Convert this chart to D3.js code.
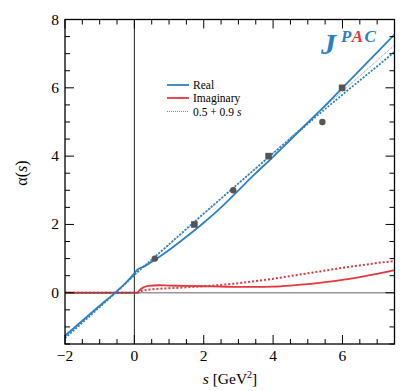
<!DOCTYPE html>
<html><head><meta charset="utf-8">
<script src="https://cdn.jsdelivr.net/npm/d3@7"></script>
<style>body{margin:0;background:#fff}svg{display:block}</style>
</head><body><div id="chart"></div>
<script>
// ---- data ----
const realS   = [-2,-1.5,-1,-0.5,-0.25,0,0.08,0.3,0.6,1,1.5,2,2.5,3,3.5,4,4.5,5,5.5,6,6.5,7,7.5];
const realV   = [-1.26,-0.82,-0.38,0.05,0.29,0.57,0.67,0.78,0.97,1.25,1.64,2.05,2.5,3.0,3.5,3.98,4.48,4.98,5.48,6.0,6.52,7.04,7.56];
const realDotS = [-2,-1,-0.5,0,0.08,0.5,1,2,3,4,5,6,7,7.5];
const realDotV = [-1.33,-0.42,0.04,0.52,0.6,0.97,1.42,2.32,3.2,4.08,4.95,5.8,6.63,7.05];
const imagS   = [-2,0,0.08,0.15,0.25,0.4,0.7,1,1.5,2,2.5,3,3.5,4,4.5,5,5.5,6,6.5,7,7.5];
const imagV   = [0,0,0,0.08,0.15,0.2,0.22,0.21,0.2,0.19,0.18,0.17,0.17,0.18,0.21,0.25,0.31,0.38,0.46,0.55,0.66];
const imagDotS = [-2,0,0.1,0.2,0.5,1,1.5,2,2.5,3,3.5,4,4.5,5,5.5,6,6.5,7,7.5];
const imagDotV = [0,0,0,0.05,0.1,0.13,0.16,0.19,0.23,0.28,0.34,0.41,0.49,0.57,0.65,0.73,0.8,0.87,0.93];
const lineS = [-2, 7.5];
const lineV = [-1.3, 7.25];
const circleS = [0.59, 2.85, 5.42];
const circleV = [1, 3, 5];
const squareS = [1.73, 3.87, 5.99];
const squareV = [2, 4, 6];
const xTicks = [-2, 0, 2, 4, 6];
const yTicks = [0, 2, 4, 6, 8];
const legendLabels = ["Real", "Imaginary", "0.5 + 0.9 "];

// ---- layout ----
const W = 407, H = 391;
const L = 65, R = 394.5, T = 19.5, B = 344;
const blue = "#2f7fc1", red = "#e0383e";
const FONT = "'Liberation Serif', 'Times New Roman', Times, 'DejaVu Serif', serif";
const x = d3.scaleLinear().domain([-2, 7.5]).range([L, R]);
const y = d3.scaleLinear().domain([-1.5, 8]).range([B, T]);
const svg = d3.select("#chart").append("svg").attr("width", W).attr("height", H)
  .attr("font-family", FONT).style("font-family", FONT);

const zip = (a, b) => a.map((v, i) => [v, b[i]]);
const line = d3.line().x(d => x(d[0])).y(d => y(d[1])).curve(d3.curveMonotoneX);

svg.append("clipPath").attr("id", "c").append("rect")
  .attr("x", L).attr("y", T).attr("width", R - L).attr("height", B - T);
const g = svg.append("g").attr("clip-path", "url(#c)");

// vertical zero line
g.append("line").attr("x1", x(0)).attr("x2", x(0)).attr("y1", T).attr("y2", B)
  .attr("stroke", "#222").attr("stroke-width", 1);

// imaginary curves
g.append("path").datum(zip(imagDotS, imagDotV)).attr("d", line).attr("fill", "none")
  .attr("stroke", red).attr("stroke-width", 2).attr("stroke-dasharray", "2,2");
g.append("path").datum(zip(imagS, imagV)).attr("d", line).attr("fill", "none")
  .attr("stroke", red).attr("stroke-width", 1.8);
// horizontal zero line
g.append("line").attr("x1", L).attr("x2", R).attr("y1", y(0)).attr("y2", y(0))
  .attr("stroke", "#555").attr("stroke-width", 1.6).attr("stroke-opacity", 0.6);

// gray reference line
g.append("path").datum(zip(lineS, lineV)).attr("d", line).attr("fill", "none")
  .attr("stroke", "#888").attr("stroke-width", 1).attr("stroke-dasharray", "1,1");
// real curves
g.append("path").datum(zip(realDotS, realDotV)).attr("d", line).attr("fill", "none")
  .attr("stroke", blue).attr("stroke-width", 1.8).attr("stroke-dasharray", "2,1.5");
g.append("path").datum(zip(realS, realV)).attr("d", line).attr("fill", "none")
  .attr("stroke", blue).attr("stroke-width", 1.8);

// points
g.selectAll("circle.pt").data(zip(circleS, circleV)).join("circle").attr("class", "pt")
  .attr("cx", d => x(d[0])).attr("cy", d => y(d[1])).attr("r", 3.2).attr("fill", "#555");
g.selectAll("rect.pt").data(zip(squareS, squareV)).join("rect").attr("class", "pt")
  .attr("x", d => x(d[0]) - 3.3).attr("y", d => y(d[1]) - 3.3).attr("width", 6.6).attr("height", 6.6)
  .attr("fill", "#555");

// frame and ticks
svg.append("rect").attr("x", L).attr("y", T).attr("width", R - L).attr("height", B - T)
  .attr("fill", "none").attr("stroke", "#000").attr("stroke-width", 1.3);
const minorX = d3.range(-2, 7.5 + 1e-9, 0.5);
const minorY = d3.range(-1.5, 8 + 1e-9, 0.5);
const isMajor = v => Math.abs(v / 2 - Math.round(v / 2)) < 1e-9;
const tg = svg.append("g").attr("stroke", "#000").attr("stroke-width", 1);
minorX.forEach(v => {
  const len = isMajor(v) ? 9 : 5;
  tg.append("line").attr("x1", x(v)).attr("x2", x(v)).attr("y1", B).attr("y2", B - len);
  tg.append("line").attr("x1", x(v)).attr("x2", x(v)).attr("y1", T).attr("y2", T + len);
});
minorY.forEach(v => {
  const len = isMajor(v) ? 9 : 5;
  tg.append("line").attr("y1", y(v)).attr("y2", y(v)).attr("x1", L).attr("x2", L + len);
  tg.append("line").attr("y1", y(v)).attr("y2", y(v)).attr("x1", R).attr("x2", R - len);
});
const fmt = v => v < 0 ? "\u2212" + Math.abs(v) : String(v);
svg.selectAll("text.xt").data(xTicks).join("text").attr("class", "xt")
  .attr("x", d => x(d)).attr("y", 361).attr("text-anchor", "middle")
  .attr("font-size", 15.5).text(fmt);
svg.selectAll("text.yt").data(yTicks).join("text").attr("class", "yt")
  .attr("x", 59).attr("y", d => y(d) + 5).attr("text-anchor", "end")
  .attr("font-size", 15.5).text(fmt);

// axis labels
const xl = svg.append("text").attr("x", 230).attr("y", 384).attr("text-anchor", "middle").attr("font-size", 15.5);
xl.append("tspan").attr("font-style", "italic").text("s");
xl.append("tspan").text(" [GeV");
xl.append("tspan").attr("font-size", 10).attr("dy", -6).text("2");
xl.append("tspan").attr("dy", 6).text("]");
const yl = svg.append("text").attr("transform", "translate(27,173) rotate(-90)")
  .attr("text-anchor", "middle").attr("font-size", 16);
yl.append("tspan").text("\u03B1(");
yl.append("tspan").attr("font-style", "italic").text("s");
yl.append("tspan").text(")");

// legend
const lg = svg.append("g");
const ly = [85, 98, 111.5];
lg.append("line").attr("x1", 167).attr("x2", 189).attr("y1", ly[0]).attr("y2", ly[0]).attr("stroke", blue).attr("stroke-width", 1.8);
lg.append("line").attr("x1", 167).attr("x2", 189).attr("y1", ly[1]).attr("y2", ly[1]).attr("stroke", red).attr("stroke-width", 1.8);
lg.append("line").attr("x1", 167).attr("x2", 189).attr("y1", ly[2]).attr("y2", ly[2]).attr("stroke", "#888").attr("stroke-width", 1).attr("stroke-dasharray", "1,1");
legendLabels.forEach((t, i) => {
  const tx = lg.append("text").attr("x", 193).attr("y", ly[i] + 4).attr("font-size", 11.5).text(t);
  if (i === 2) tx.append("tspan").attr("font-style", "italic").text("s");
});

// JPAC logo
const logo = svg.append("text").attr("x", 321).attr("y", 54)
  .attr("font-weight", "bold").attr("font-style", "italic");
logo.append("tspan").attr("font-size", 30).attr("fill", blue).text("J");
logo.append("tspan").attr("font-size", 17).attr("dy", -12).attr("dx", 5).attr("fill", blue).text("P");
logo.append("tspan").attr("font-size", 17).attr("dx", 1.5).attr("fill", red).text("A");
logo.append("tspan").attr("font-size", 17).attr("dx", 1.5).attr("fill", blue).text("C");
</script>
</body></html>
